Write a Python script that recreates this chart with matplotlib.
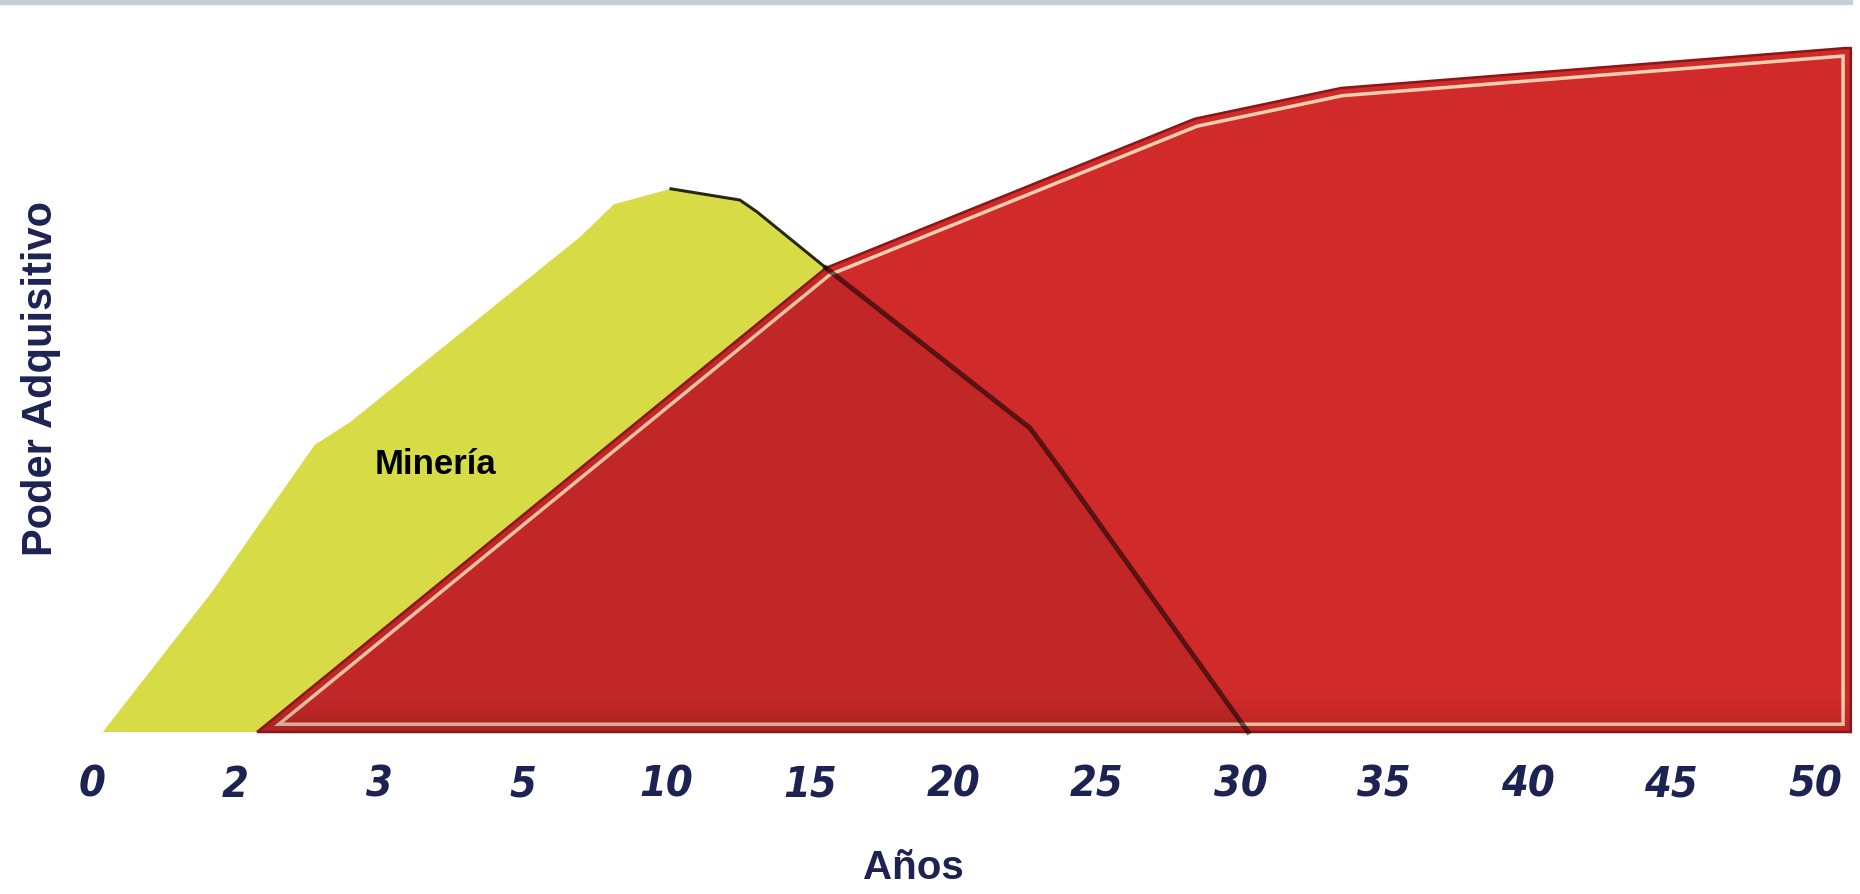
"""Poder adquisitivo vs. años: Minería (yellow) against the long-run red area."""

import matplotlib
matplotlib.use("Agg")
import matplotlib.pyplot as plt
import numpy as np
from matplotlib import font_manager
from matplotlib.patches import Polygon, Rectangle

# axis categories (unevenly spaced years, drawn at equal steps)
YEARS = [0, 2, 3, 5, 10, 15, 20, 25, 30, 35, 40, 45, 50]
YEAR_LABELS = [str(y) for y in YEARS]

# Minería curve (years, poder adquisitivo)
MIN_X = [0.15, 1.67, 2.55, 2.80, 3.30, 6.96, 8.18, 10.16, 12.56, 13.16,
         15.56, 22.67, 23.71, 30.26]
MIN_Y = [0.0, 20.0, 41.0, 44.3, 50.1, 70.6, 75.4, 77.6, 76.0, 74.3,
         66.3, 43.4, 37.6, 0.0]

# red area (years, poder adquisitivo)
RED_X = [2.15, 15.56, 28.4, 33.5, 51.05, 51.25, 51.25]
RED_Y = [0.0, 66.3, 87.6, 92.0, 97.7, 97.7, 0.0]

MIN_LABEL = "Minería"
X_LABEL = "Años"
Y_LABEL = "Poder Adquisitivo"

YELLOW = "#d7dc46"
RED = "#d02a2a"
DARK_RED = "#8a1717"
LIGHT = "#fbd0b0"
NAVY = "#1c2252"

SANS = ["Liberation Sans", "DejaVu Sans"]

# narrow italic face for the year labels
narrow_file = font_manager.findfont(font_manager.FontProperties(
    family="DejaVu Sans", stretch="condensed", style="italic", weight="bold"))
tick_font = font_manager.FontProperties(fname=narrow_file, size=31)

# equal-step scale for the year categories, extended past both ends
ext_years = [-10] + YEARS + [60]
ext_slots = [-5] + list(range(len(YEARS))) + [len(YEARS) + 1]


def fwd(v):
    return np.interp(v, ext_years, ext_slots)


def inv(v):
    return np.interp(v, ext_slots, ext_years)


W, H = 1860, 895
fig = plt.figure(figsize=(W / 100, H / 100), dpi=100)
base_px = 733
ax = fig.add_axes([0, (H - base_px) / H, 1, base_px / H])
ax.set_xscale("function", functions=(fwd, inv))
ax.set_xlim(inv(-0.641), inv(12.314))
ax.set_ylim(0, base_px / 7)
for s in ax.spines.values():
    s.set_visible(False)
ax.set_yticks([])

ax.set_xticks(YEARS)
ax.set_xticklabels(YEAR_LABELS, fontproperties=tick_font, color=NAVY)
ax.tick_params(axis="x", length=0, pad=22)

px = 0.72  # one pixel in points
yellow = Polygon(np.column_stack([MIN_X, MIN_Y]), closed=True,
                 facecolor=YELLOW, edgecolor="none", zorder=1, clip_on=False)
ax.add_patch(yellow)

red_xy = np.column_stack([RED_X, RED_Y])
red = Polygon(red_xy, closed=True, facecolor=RED, edgecolor="none",
              zorder=2, clip_on=False)
ax.add_patch(red)

# inner light line: two strokes clipped to the red shape
for lw, col, z in [(2 * 9.5 * px, LIGHT, 3), (2 * 6 * px, RED, 4)]:
    band = Polygon(red_xy, closed=True, fill=False, edgecolor=col, lw=lw,
                   joinstyle="miter", zorder=z)
    band.set_clip_path(red)
    ax.add_patch(band)

# darker red where the two areas overlap
shade = Polygon(np.column_stack([MIN_X, MIN_Y]), closed=True,
                facecolor="black", alpha=0.07, edgecolor="none", zorder=5)
shade.set_clip_path(red)
ax.add_patch(shade)

# bottom bevel of the red area
for k in range(1, 5):
    span = ax.axhspan(0, k * 1.1, color="black", alpha=0.025, lw=0, zorder=5)
    span.set_clip_path(red)

ax.add_patch(Polygon(red_xy, closed=True, fill=False, edgecolor=DARK_RED,
                     lw=2.5 * px, joinstyle="miter", zorder=6, clip_on=False))

# dark outline on the falling side of Minería
mx = np.array(MIN_X)
my = np.array(MIN_Y)
top = (mx >= 10.16) & (mx <= 15.56)
ax.plot(mx[top], my[top], color="#111100", lw=3 * px, alpha=0.9,
        solid_joinstyle="round", zorder=7)
low = mx >= 15.56
ax.plot(mx[low], my[low], color="black", lw=5 * px, alpha=0.55,
        solid_joinstyle="round", zorder=7, clip_on=False)

ax.text(3.78, (base_px - 465) / 7, MIN_LABEL, family=SANS, fontweight="bold",
        fontsize=25, color="black", ha="center", va="center", zorder=8)

fig.text(913 / W, 1 - 868 / H, X_LABEL, family=SANS, fontweight="bold",
         fontsize=29, color=NAVY, ha="center", va="center")
fig.text(41 / W, 1 - 378 / H, Y_LABEL, family=SANS, fontweight="bold",
         fontsize=30, color=NAVY, ha="center", va="center", rotation=90)

# slide border strip along the top
fig.patches.append(Rectangle((0, 1 - 5 / H), 1852 / W, 5 / H,
                             transform=fig.transFigure, color="#c4cfd7",
                             zorder=0))

fig.savefig("out.png", dpi=100)
